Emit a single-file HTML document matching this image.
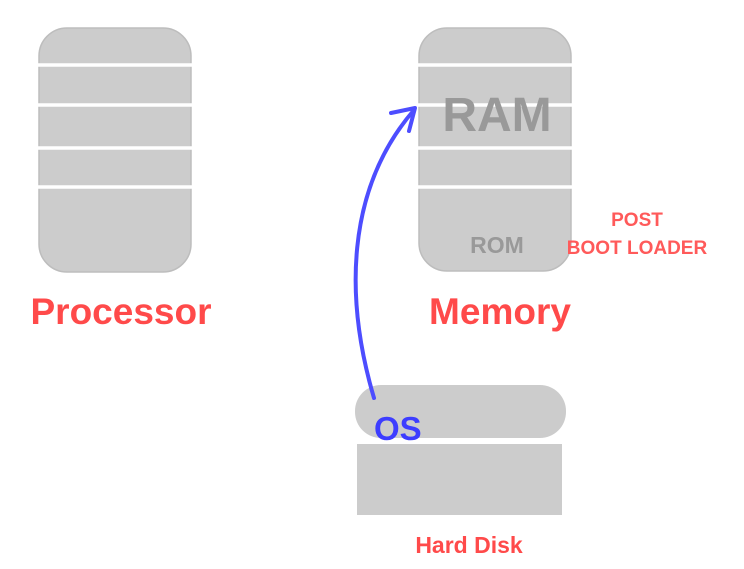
<!DOCTYPE html>
<html><head><style>
body{margin:0;background:#fff;width:744px;height:564px;overflow:hidden}
</style></head><body>
<svg width="744" height="564" xmlns="http://www.w3.org/2000/svg" style="font-family:'Liberation Sans',sans-serif;font-weight:bold">
<rect x="39" y="28" width="152" height="244" rx="28" fill="#cccccc" stroke="#bdbdbd" stroke-width="1.5"/>
<g stroke="#fff" stroke-width="3.5">
<line x1="38" y1="65" x2="192" y2="65"/><line x1="38" y1="105" x2="192" y2="105"/>
<line x1="38" y1="148" x2="192" y2="148"/><line x1="38" y1="187" x2="192" y2="187"/>
</g>
<rect x="419" y="28" width="152" height="243" rx="28" fill="#cccccc" stroke="#bdbdbd" stroke-width="1.5"/>
<g stroke="#fff" stroke-width="3.5">
<line x1="418" y1="65" x2="572" y2="65"/><line x1="418" y1="105" x2="572" y2="105"/>
<line x1="418" y1="148" x2="572" y2="148"/><line x1="418" y1="187" x2="572" y2="187"/>
</g>
<text x="497" y="131" font-size="48" fill="#999" text-anchor="middle">RAM</text>
<text x="497" y="253" font-size="23" fill="#999" text-anchor="middle">ROM</text>
<text x="637" y="226" font-size="19" fill="#ff5a5a" text-anchor="middle">POST</text>
<text x="637" y="254" font-size="19" fill="#ff5a5a" text-anchor="middle">BOOT LOADER</text>
<text x="121" y="324" font-size="37" fill="#ff4a4a" text-anchor="middle">Processor</text>
<text x="500" y="324" font-size="37" fill="#ff4a4a" text-anchor="middle">Memory</text>
<rect x="355" y="385" width="211" height="53" rx="26" fill="#cccccc"/>
<rect x="357" y="444" width="205" height="71" fill="#cccccc"/>
<text x="469" y="553" font-size="23" fill="#ff4a4a" text-anchor="middle">Hard Disk</text>
<path d="M374,398 C345,300 345,190 414,110" fill="none" stroke="#4d4dff" stroke-width="4" stroke-linecap="round"/>
<path d="M391,113 L415,108 L409,131" fill="none" stroke="#4d4dff" stroke-width="4" stroke-linecap="round" stroke-linejoin="round"/>
<text x="374" y="440" font-size="33" fill="#3d3dff">OS</text>
</svg>
</body></html>
